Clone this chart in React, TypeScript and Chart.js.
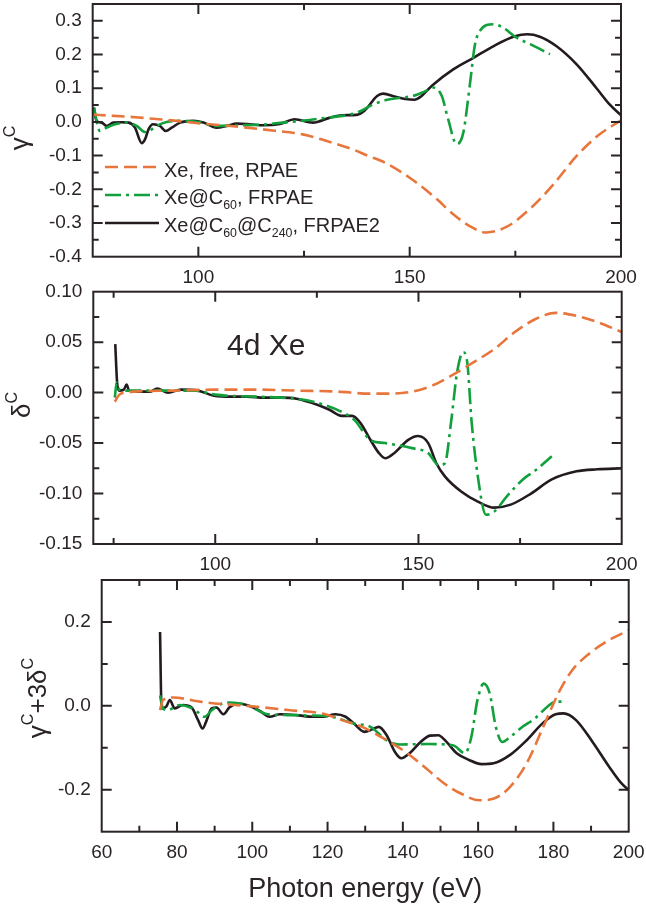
import React, { useEffect, useRef } from "react";
import { Chart, registerables } from "chart.js";

Chart.register(...registerables);

type Pt = [number, number];

const FONT = '"Liberation Sans", Arial, Helvetica, sans-serif';
const INK = "#2a2327";
const ORANGE = "#e8763c";
const GREEN = "#12a03c";
const BLACK = "#231b20";

// ---------- Panel 1: gamma^C ----------
const gammaFree: Pt[] = [
  [75, 0.022], [80, 0.018], [85, 0.014], [90.6, 0.008], [95, 0.003], [100, -0.004],
  [105, -0.009], [111.5, -0.017], [118, -0.026], [124.7, -0.037], [130, -0.055],
  [136.4, -0.081], [140, -0.1], [144.2, -0.121], [150.5, -0.17], [156.4, -0.229],
  [160.3, -0.274], [164.2, -0.309], [168.1, -0.328], [173, -0.311], [178.8, -0.254],
  [183.7, -0.19], [189.5, -0.101], [194.4, -0.042], [200, 0.005],
];
const gammaC60: Pt[] = [
  [75.3, 0.04], [76.7, -0.027], [78.3, -0.017], [80.3, -0.007], [83, -0.002], [85.4, -0.012],
  [87.4, -0.03], [88.6, -0.025], [90.1, -0.012], [92.5, 0.0], [95.7, 0.003], [100, 0.0],
  [104, -0.012], [110, -0.01], [115, -0.008], [120, -0.002], [125, 0.004], [130, 0.012],
  [135, 0.02], [138, 0.03], [141, 0.05], [144.7, 0.066], [148, 0.072], [150.8, 0.077],
  [153.5, 0.09], [155.6, 0.102], [157.6, 0.077], [159.1, 0.008], [161.1, -0.066],
  [162.7, -0.031], [164.3, 0.117], [165.4, 0.226], [166.6, 0.27], [169.8, 0.29],
  [172.1, 0.28], [175.3, 0.25], [178.5, 0.231], [183.2, 0.201],
];
const gammaC240: Pt[] = [
  [75.3, 0.043], [75.9, 0.003], [77.1, -0.002], [78.3, -0.012], [79.9, -0.002], [81.9, -0.001],
  [83.5, -0.002], [85, -0.017], [86.6, -0.063], [87.4, -0.051], [88.2, -0.022], [89.3, -0.007],
  [90.9, -0.012], [92.3, -0.027], [93.7, -0.017], [95.7, -0.002], [98.8, 0.003], [101.2, -0.002],
  [104.3, -0.017], [106.7, -0.012], [109.1, -0.005], [112.2, -0.007], [115.4, -0.01],
  [119.3, -0.006], [122.8, 0.008], [127.1, -0.002], [131, 0.012], [134, 0.02], [137.4, 0.021],
  [139.3, 0.033], [142.3, 0.077], [143.7, 0.084], [146.6, 0.075], [149, 0.068], [151.2, 0.066],
  [152.5, 0.074], [155.4, 0.109], [160.3, 0.156], [165.2, 0.191], [170, 0.226], [174.9, 0.254],
  [177.8, 0.26], [180.8, 0.253], [184.6, 0.226], [189.5, 0.171], [194.4, 0.097], [197.3, 0.052],
  [200, 0.02],
];

// ---------- Panel 2: delta^C ----------
const deltaFree: Pt[] = [
  [75.3, -0.009], [76.4, -0.002], [78, 0.0], [80, 0.001], [90, 0.002], [100, 0.003], [110, 0.003],
  [120, 0.002], [130, 0.001], [138, -0.001], [143.3, -0.001], [148.4, 0.001], [153.4, 0.007],
  [158.2, 0.017], [163.5, 0.03], [168.6, 0.043], [173.7, 0.06], [178.8, 0.073], [183.8, 0.079],
  [188.9, 0.076], [194, 0.07], [200, 0.06],
];
const deltaC60: Pt[] = [
  [75.3, -0.005], [75.75, 0.01], [76.4, 0.003], [78, 0.002], [85, 0.002], [90, 0.002], [95, 0.002],
  [100, -0.002], [110, -0.004], [120, -0.006], [125.1, -0.01], [131.1, -0.019], [134.2, -0.027],
  [138.2, -0.047], [141.8, -0.05], [148.4, -0.055], [152.4, -0.06], [155, -0.072], [156.5, -0.07],
  [158, -0.03], [159.5, 0.02], [161, 0.04], [162, 0.03], [163.1, -0.03], [164.6, -0.083],
  [166.6, -0.121], [168.6, -0.118], [171.7, -0.103], [175.7, -0.086], [178.8, -0.077],
  [182.8, -0.063],
];
const deltaC240: Pt[] = [
  [75.4, 0.048], [75.9, 0.008], [76.4, 0.002], [77.5, 0.003], [78.2, 0.008], [78.8, 0.002],
  [80.5, 0.001], [84, 0.001], [85.7, 0.004], [88.4, 0.0], [91.6, 0.003], [95.7, 0.002],
  [99.7, -0.003], [104, -0.004], [107.8, -0.004], [112, -0.005], [116, -0.005], [120, -0.006],
  [125.1, -0.012], [128.1, -0.017], [131.1, -0.023], [133.7, -0.023], [135.7, -0.03],
  [138.2, -0.047], [140.3, -0.06], [141.8, -0.065], [144.3, -0.059], [147.4, -0.047],
  [149.9, -0.043], [152.4, -0.05], [154.4, -0.07], [156.5, -0.083], [160.5, -0.098],
  [164.6, -0.108], [168.6, -0.114], [172.7, -0.111], [177.7, -0.1], [182.8, -0.086],
  [188.9, -0.078], [194, -0.076], [200, -0.075],
];

// ---------- Panel 3: gamma^C + 3 delta^C ----------
const sumFree: Pt[] = [
  [75.5, -0.01], [76.3, 0.014], [79, 0.02], [86.1, 0.01], [92.3, 0.004], [98.6, 0.0],
  [109.5, -0.01], [119.4, -0.02], [123.8, -0.034], [129.2, -0.05], [135.7, -0.082],
  [141.2, -0.113], [146.7, -0.153], [151, -0.185], [155.4, -0.209], [160.3, -0.225],
  [164.2, -0.221], [168.5, -0.193], [172.9, -0.137], [177.3, -0.05], [181.6, 0.035],
  [185, 0.085], [190, 0.128], [195, 0.158], [200, 0.18],
];
const sumC60: Pt[] = [
  [75.5, 0.025], [76.3, -0.006], [77.5, -0.01], [80.8, 0.002], [83.5, -0.004], [85.5, -0.015],
  [87.3, -0.026], [89.3, -0.01], [92.1, 0.006], [94.2, 0.008], [98.6, 0.002], [104.1, -0.02],
  [109.5, -0.022], [115, -0.023], [120.4, -0.025], [127, -0.042], [131.4, -0.05],
  [135.7, -0.082], [139, -0.092], [146.7, -0.091], [153.3, -0.094], [156.5, -0.113],
  [158.2, -0.074], [159.8, 0.013], [161.5, 0.053], [163.1, 0.029], [164.7, -0.05],
  [166.4, -0.086], [168.5, -0.074], [171.8, -0.05], [175.1, -0.03], [178.4, -0.002],
  [180.6, 0.01], [182.7, 0.01],
];
const sumC240: Pt[] = [
  [75.5, 0.176], [75.9, -0.006], [77.2, -0.001], [78.1, 0.014], [79.4, -0.006], [81.6, 0.002],
  [83.9, -0.004], [85.6, -0.034], [86.8, -0.054], [87.9, -0.034], [89.2, -0.006], [90.5, -0.004],
  [92.3, -0.02], [94, -0.003], [96.2, 0.005], [98.5, 0.002], [102, -0.012], [104.6, -0.026],
  [107.4, -0.02], [111.7, -0.022], [116.1, -0.026], [119.4, -0.025], [122.1, -0.02],
  [124.8, -0.026], [127, -0.042], [129.8, -0.062], [131.9, -0.056], [133.6, -0.05],
  [135.7, -0.07], [137.9, -0.11], [139.6, -0.125], [141.8, -0.113], [144.5, -0.088],
  [147.2, -0.071], [149.4, -0.07], [151.6, -0.086], [154.3, -0.113], [157.6, -0.129],
  [160.9, -0.139], [164.1, -0.137], [168.5, -0.117], [172.9, -0.082], [177.3, -0.04],
  [180.6, -0.02], [182.7, -0.018], [186, -0.034], [190.4, -0.086], [194.8, -0.145],
  [198.1, -0.185], [200, -0.201],
];

// ---------- Ticks ----------
const topXTicks = [100, 150, 200];
const topXMinor = [125, 175];
const topYTicks = [-0.4, -0.3, -0.2, -0.1, 0, 0.1, 0.2, 0.3];
const topYMinor = [-0.35, -0.25, -0.15, -0.05, 0.05, 0.15, 0.25];

const midXTicks = [100, 150, 200];
const midXMinor = [75, 125, 175];
const midYTicks = [-0.15, -0.1, -0.05, 0, 0.05, 0.1];
const midYMinor = [-0.125, -0.075, -0.025, 0.025, 0.075];

const botXTicks = [60, 80, 100, 120, 140, 160, 180, 200];
const botXMinor = [70, 90, 110, 130, 150, 170, 190];
const botYTicks = [-0.2, 0, 0.2];
const botYMinor = [-0.1, 0.1];

// ---------- Texts ----------
type Seg = { t: string; s?: "sub" | "sup" };
const seriesNames: Seg[][] = [
  [{ t: "Xe, free, RPAE" }],
  [{ t: "Xe@C" }, { t: "60", s: "sub" }, { t: ", FRPAE" }],
  [{ t: "Xe@C" }, { t: "60", s: "sub" }, { t: "@C" }, { t: "240", s: "sub" }, { t: ", FRPAE2" }],
];
const topYTitle: Seg[] = [{ t: "γ" }, { t: "C", s: "sup" }];
const midYTitle: Seg[] = [{ t: "δ" }, { t: "C", s: "sup" }];
const botYTitle: Seg[] = [{ t: "γ" }, { t: "C", s: "sup" }, { t: "+3δ" }, { t: "C", s: "sup" }];
const xTitle = "Photon energy (eV)";
const panelLabel = "4d Xe";

const STYLES = [
  { color: ORANGE, dash: [13, 6] },
  { color: GREEN, dash: [16, 5, 3, 5] },
  { color: BLACK, dash: [] as number[] },
];

function drawRich(
  ctx: CanvasRenderingContext2D,
  segs: Seg[],
  x: number,
  y: number,
  size: number,
  align: "left" | "center"
) {
  const small = size * 0.62;
  const fontOf = (s: Seg) => `${s.s ? small : size}px ${FONT}`;
  const widths = segs.map((s) => {
    ctx.font = fontOf(s);
    return ctx.measureText(s.t).width;
  });
  const total = widths.reduce((a, b) => a + b, 0);
  let cx = align === "center" ? x - total / 2 : x;
  ctx.textAlign = "left";
  ctx.textBaseline = "alphabetic";
  segs.forEach((s, i) => {
    ctx.font = fontOf(s);
    const dy = s.s === "sub" ? size * 0.28 : s.s === "sup" ? -size * 0.5 : 0;
    ctx.fillText(s.t, cx, y + dy);
    cx += widths[i];
  });
}

interface PanelSpec {
  top: number;
  height: number;
  area: { l: number; r: number; t: number; b: number };
  xMin: number;
  xMax: number;
  yMin: number;
  yMax: number;
  xTicks: number[];
  xMinor: number[];
  yTicks: number[];
  yMinor: number[];
  yDigits: number;
  series: Pt[][];
  xTitle?: string;
  yTitle: Seg[];
  yTitlePos: [number, number];
  legend?: boolean;
  label?: { text: string; x: number; y: number };
}

const W = 646;
const TICK_FONT = 19;

function buildConfig(spec: PanelSpec): any {
  const { area, top, height } = spec;
  const framePlugin = {
    id: "frame" + top,
    afterDraw(chart: any) {
      const ctx: CanvasRenderingContext2D = chart.ctx;
      const { left, right, top: ct, bottom } = chart.chartArea;
      const xs = chart.scales.x;
      const ys = chart.scales.y;
      ctx.save();
      ctx.strokeStyle = INK;
      ctx.lineWidth = 2;
      ctx.lineCap = "butt";
      ctx.beginPath();
      const xt = (vals: number[], len: number) => {
        vals.forEach((v) => {
          const p = xs.getPixelForValue(v);
          if (p < left + 1 || p > right - 1) return;
          ctx.moveTo(p, bottom);
          ctx.lineTo(p, bottom - len);
          ctx.moveTo(p, ct);
          ctx.lineTo(p, ct + len);
        });
      };
      const yt = (vals: number[], len: number) => {
        vals.forEach((v) => {
          const p = ys.getPixelForValue(v);
          if (p < ct + 1 || p > bottom - 1) return;
          ctx.moveTo(left, p);
          ctx.lineTo(left + len, p);
          ctx.moveTo(right, p);
          ctx.lineTo(right - len, p);
        });
      };
      xt(spec.xTicks, 10);
      xt(spec.xMinor, 6);
      yt(spec.yTicks, 10);
      yt(spec.yMinor, 6);
      ctx.stroke();
      ctx.strokeRect(left, ct, right - left, bottom - ct);

      ctx.fillStyle = INK;
      ctx.save();
      ctx.translate(spec.yTitlePos[0], spec.yTitlePos[1] - top);
      ctx.rotate(-Math.PI / 2);
      drawRich(ctx, spec.yTitle, 0, 0, 26, "center");
      ctx.restore();

      if (spec.legend) {
        const rows = [
          { ly: 167, by: 176.5 },
          { ly: 195, by: 203.5 },
          { ly: 223, by: 231.5 },
        ];
        rows.forEach((r, i) => {
          ctx.save();
          ctx.strokeStyle = STYLES[i].color;
          ctx.lineWidth = 2.6;
          ctx.setLineDash(STYLES[i].dash);
          ctx.beginPath();
          ctx.moveTo(105, r.ly - top);
          ctx.lineTo(159, r.ly - top);
          ctx.stroke();
          ctx.restore();
          ctx.fillStyle = INK;
          drawRich(ctx, seriesNames[i], 164, r.by - top, 20, "left");
        });
      }
      if (spec.label) {
        ctx.font = `30px ${FONT}`;
        ctx.textAlign = "left";
        ctx.textBaseline = "alphabetic";
        ctx.fillText(spec.label.text, spec.label.x, spec.label.y - top);
      }
      ctx.restore();
    },
  };

  return {
    type: "scatter",
    data: {
      datasets: spec.series.map((pts, i) => ({
        label: seriesNames[i].map((s) => s.t).join(""),
        data: pts.map(([x, y]) => ({ x, y })),
        showLine: true,
        borderColor: STYLES[i].color,
        backgroundColor: STYLES[i].color,
        borderWidth: 2.6,
        borderDash: STYLES[i].dash,
        pointRadius: 0,
        pointHoverRadius: 0,
        cubicInterpolationMode: "monotone",
        fill: false,
      })),
    },
    options: {
      animation: false,
      responsive: false,
      maintainAspectRatio: false,
      devicePixelRatio: 1,
      events: [],
      layout: { padding: { top: area.t - top, right: W - area.r, left: 0, bottom: 0 } },
      plugins: { legend: { display: false }, tooltip: { enabled: false } },
      scales: {
        x: {
          type: "linear",
          min: spec.xMin,
          max: spec.xMax,
          grid: { display: false, drawTicks: false },
          border: { display: false },
          ticks: {
            padding: 9.5,
            color: INK,
            font: { family: FONT, size: TICK_FONT },
            autoSkip: false,
            maxRotation: 0,
            callback: (v: number) => String(Math.round(v)),
          },
          title: spec.xTitle
            ? {
                display: true,
                text: spec.xTitle,
                color: INK,
                font: { family: FONT, size: 27 },
                padding: { top: 0, bottom: 2.8 },
              }
            : { display: false },
          afterBuildTicks: (s: any) => {
            s.ticks = spec.xTicks.map((v) => ({ value: v }));
          },
          afterFit: (s: any) => {
            s.height = top + height - area.b;
            s.paddingLeft = 0;
            s.paddingRight = 0;
          },
        },
        y: {
          type: "linear",
          min: spec.yMin,
          max: spec.yMax,
          grid: { display: false, drawTicks: false },
          border: { display: false },
          ticks: {
            padding: 11,
            color: INK,
            font: { family: FONT, size: TICK_FONT },
            autoSkip: false,
            callback: (v: number) => v.toFixed(spec.yDigits),
          },
          afterBuildTicks: (s: any) => {
            s.ticks = spec.yTicks.map((v) => ({ value: v }));
          },
          afterFit: (s: any) => {
            s.width = area.l;
            s.paddingTop = 0;
            s.paddingBottom = 0;
          },
        },
      },
    },
    plugins: [framePlugin],
  };
}

const panels: PanelSpec[] = [
  {
    top: 0,
    height: 300,
    area: { l: 92.7, r: 621, t: 4, b: 256.7 },
    xMin: 75,
    xMax: 200,
    yMin: -0.4,
    yMax: 0.35,
    xTicks: topXTicks,
    xMinor: topXMinor,
    yTicks: topYTicks,
    yMinor: topYMinor,
    yDigits: 1,
    series: [gammaFree, gammaC60, gammaC240],
    yTitle: topYTitle,
    yTitlePos: [28, 138],
    legend: true,
  },
  {
    top: 262,
    height: 330,
    area: { l: 93.3, r: 621.7, t: 291.7, b: 544 },
    xMin: 70,
    xMax: 200,
    yMin: -0.15,
    yMax: 0.1,
    xTicks: midXTicks,
    xMinor: midXMinor,
    yTicks: midYTicks,
    yMinor: midYMinor,
    yDigits: 2,
    series: [deltaFree, deltaC60, deltaC240],
    yTitle: midYTitle,
    yTitlePos: [30, 405],
    label: { text: panelLabel, x: 227, y: 355 },
  },
  {
    top: 560,
    height: 349,
    area: { l: 101.7, r: 628.7, t: 580, b: 831.7 },
    xMin: 60,
    xMax: 200,
    yMin: -0.3,
    yMax: 0.3,
    xTicks: botXTicks,
    xMinor: botXMinor,
    yTicks: botYTicks,
    yMinor: botYMinor,
    yDigits: 1,
    series: [sumFree, sumC60, sumC240],
    xTitle: xTitle,
    yTitle: botYTitle,
    yTitlePos: [46, 698],
  },
];

function Panel({ spec }: { spec: PanelSpec }) {
  const ref = useRef<HTMLCanvasElement>(null);
  useEffect(() => {
    if (!ref.current) return;
    const chart = new Chart(ref.current, buildConfig(spec));
    return () => chart.destroy();
  }, [spec]);
  return (
    <canvas
      ref={ref}
      width={W}
      height={spec.height}
      style={{ position: "absolute", left: 0, top: spec.top, width: W, height: spec.height, display: "block" }}
    />
  );
}

export default function App() {
  return (
    <div
      style={{
        position: "absolute",
        left: 0,
        top: 0,
        width: W,
        height: 909,
        overflow: "hidden",
        background: "#ffffff",
      }}
    >
      {panels.map((p) => (
        <Panel key={p.top} spec={p} />
      ))}
    </div>
  );
}
